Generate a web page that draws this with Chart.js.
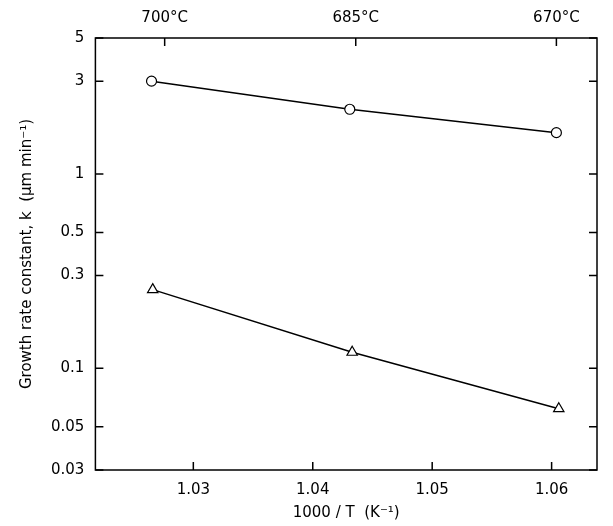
<!DOCTYPE html>
<html><head><meta charset="utf-8">
<script src="https://cdn.jsdelivr.net/npm/chart.js@4/dist/chart.umd.min.js"></script>
<style>html,body{margin:0;padding:0;background:#fff}#w{width:613px;height:526px}</style>
</head><body><div id="w"><canvas id="c"></canvas></div>
<script>
const circleX = [1.0265, 1.0431, 1.0604];
const circleK = [3.0, 2.15, 1.63];
const triX = [1.0266, 1.0433, 1.0606];
const triK = [0.254, 0.121, 0.062];
const yTicks = [0.03, 0.05, 0.1, 0.3, 0.5, 1, 3, 5];
const xTicks = [1.03, 1.04, 1.05, 1.06];
const topTickX = [1.0276, 1.0436, 1.0604];
const topTickLabels = ['700°C', '685°C', '670°C'];
const X_MIN = 1.0218, X_MAX = 1.0638;
const font = {family: 'DejaVu Sans', size: 15};

const inTicks = {
  id: 'inTicks',
  afterDraw(ch) {
    const c = ch.ctx, a = ch.chartArea, y = ch.scales.y, x = ch.scales.x;
    c.save(); c.strokeStyle = '#000'; c.lineWidth = 1.5;
    c.strokeRect(a.left, a.top, a.right - a.left, a.bottom - a.top);
    c.beginPath();
    yTicks.forEach(v => { const p = y.getPixelForValue(v);
      c.moveTo(a.left, p); c.lineTo(a.left + 8, p);
      c.moveTo(a.right, p); c.lineTo(a.right - 8, p); });
    xTicks.forEach(v => { const p = x.getPixelForValue(v);
      c.moveTo(p, a.bottom); c.lineTo(p, a.bottom - 8); });
    topTickX.forEach(v => { const p = x.getPixelForValue(v);
      c.moveTo(p, a.top); c.lineTo(p, a.top + 8); });
    c.stroke(); c.restore();
  }
};

new Chart(document.getElementById('c'), {
  type: 'scatter',
  data: { datasets: [
    { data: circleX.map((v, i) => ({x: v, y: circleK[i]})), showLine: true,
      borderColor: '#000', borderWidth: 1.5, pointStyle: 'circle', pointRadius: 5,
      pointBackgroundColor: '#fff', pointBorderColor: '#000', pointBorderWidth: 1.2 },
    { data: triX.map((v, i) => ({x: v, y: triK[i]})), showLine: true,
      borderColor: '#000', borderWidth: 1.5, pointStyle: 'triangle', pointRadius: 6,
      pointBackgroundColor: '#fff', pointBorderColor: '#000', pointBorderWidth: 1.2 }
  ]},
  options: {
    responsive: true, maintainAspectRatio: false, animation: false,
    layout: { padding: {left: 14, right: 16, top: 6, bottom: 4} },
    plugins: { legend: {display: false}, tooltip: {enabled: false} },
    scales: {
      x: { type: 'linear', min: X_MIN, max: X_MAX,
        afterBuildTicks: s => { s.ticks = xTicks.map(v => ({value: v})); },
        ticks: { color: '#000', font, maxRotation: 0, callback: v => v.toFixed(2) },
        grid: { display: false }, border: {display: false},
        title: { display: true, text: '1000 / T  (K⁻¹)', color: '#000', font, padding: {top: 2, bottom: 0} } },
      x2: { type: 'linear', position: 'top', min: X_MIN, max: X_MAX,
        afterBuildTicks: s => { s.ticks = topTickX.map(v => ({value: v})); },
        ticks: { color: '#000', font, maxRotation: 0,
          callback: v => { const i = topTickX.indexOf(v); return i >= 0 ? topTickLabels[i] : ''; } },
        grid: { display: false }, border: {display: false} },
      y: { type: 'logarithmic', min: 0.03, max: 5,
        afterBuildTicks: s => { s.ticks = yTicks.map(v => ({value: v})); },
        ticks: { color: '#000', font, callback: v => String(v) },
        grid: { display: false }, border: {display: false},
        title: { display: true, text: 'Growth rate constant, k  (μm min⁻¹)', color: '#000', font, padding: {bottom: 12} } }
    }
  },
  plugins: [inTicks]
});
</script></body></html>
